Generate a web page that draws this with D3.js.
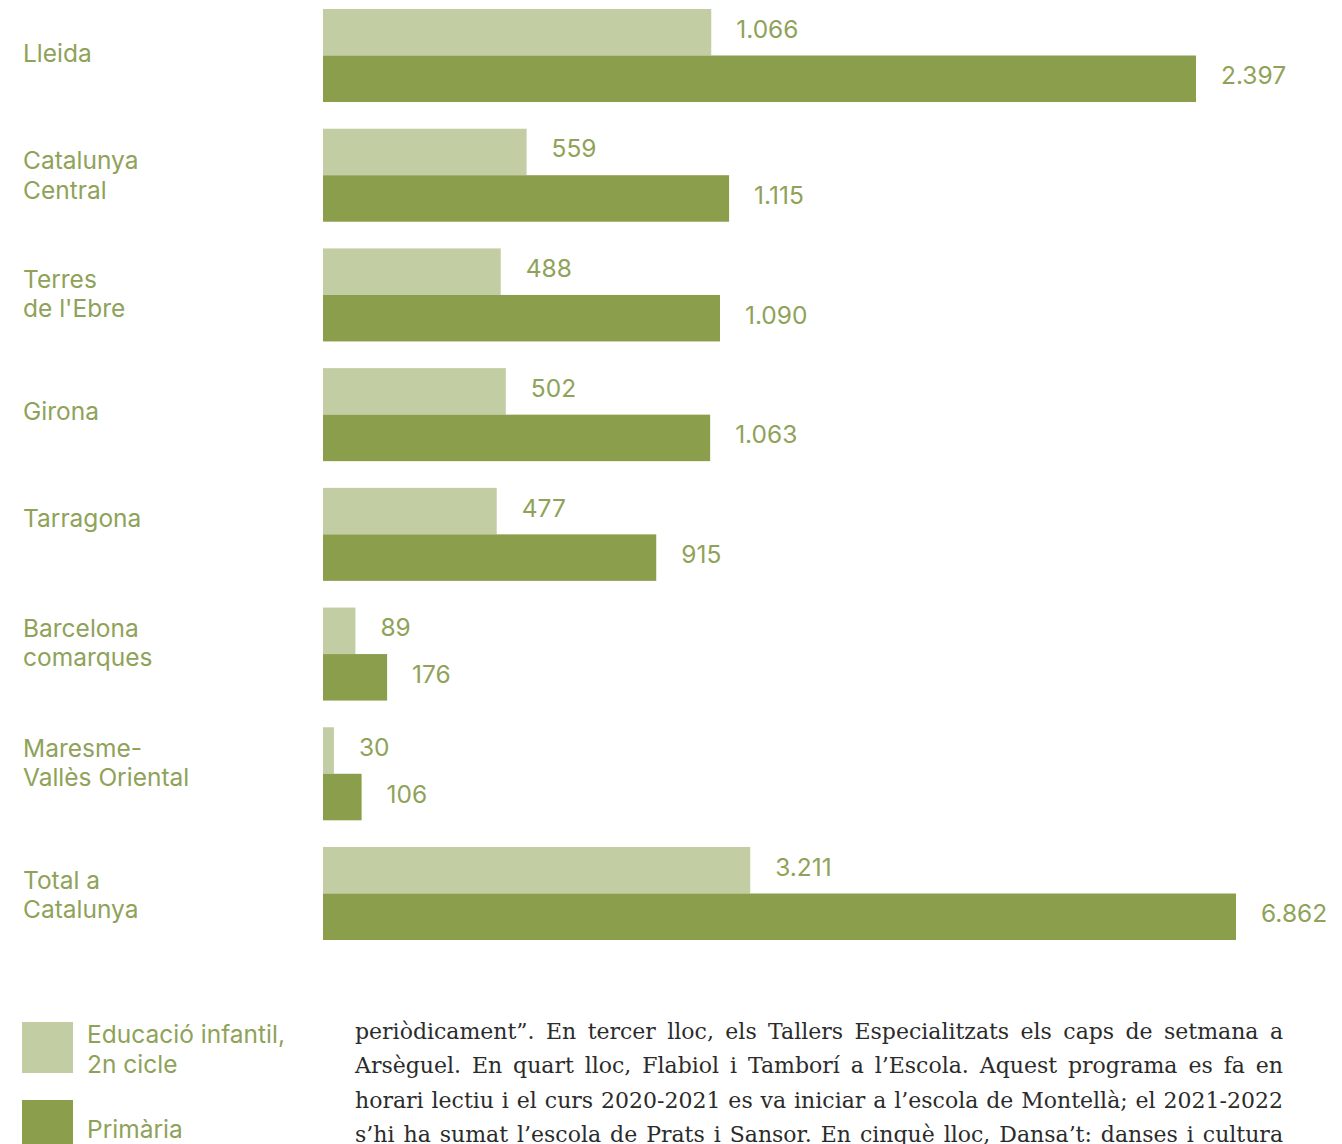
<!DOCTYPE html>
<html>
<head>
  <script src="https://d3js.org/d3.v7.min.js"></script>
  <style>
    body { margin: 0; background: #fff; }
    .cat, .val, .leg { font-family: Inter, "Open Sans", sans-serif; fill: #8fa259; }
    .para { font-family: "DejaVu Serif", serif; fill: #2b2b2b; }
  </style>
</head>
<body>
  <svg width="1342" height="1144"></svg>
  <script>
    const width = 1342, height = 1144;

    // data
    const categories = ["Lleida", "Catalunya Central", "Terres de l'Ebre", "Girona",
      "Tarragona", "Barcelona comarques", "Maresme-Vallès Oriental", "Total a Catalunya"];
    const categoryLines = [["Lleida"], ["Catalunya", "Central"], ["Terres", "de l'Ebre"], ["Girona"],
      ["Tarragona"], ["Barcelona", "comarques"], ["Maresme-", "Vallès Oriental"], ["Total a", "Catalunya"]];
    const infantil = [1066, 559, 488, 502, 477, 89, 30, 3211];
    const primaria = [2397, 1115, 1090, 1063, 915, 176, 106, 6862];
    const seriesNames = ["Educació infantil, 2n cicle", "Primària"];
    const paragraph = [
      "periòdicament”. En tercer lloc, els Tallers Especialitzats els caps de setmana a",
      "Arsèguel. En quart lloc, Flabiol i Tamborí a l’Escola. Aquest programa es fa en",
      "horari lectiu i el curs 2020-2021 es va iniciar a l’escola de Montellà; el 2021-2022",
      "s’hi ha sumat l’escola de Prats i Sansor. En cinquè lloc, Dansa’t: danses i cultura"
    ];

    const colors = ["#c3cda4", "#8b9e4c"];
    const fmt = v => d3.format(",")(v).replace(/,/g, ".");
    const fs = 24.5;

    const svg = d3.select("svg")
      .attr("width", width)
      .attr("height", height);

    const y = d3.scaleBand()
      .domain(categories)
      .range([9, 940])
      .paddingInner(0.223)
      .paddingOuter(0);

    const ySub = d3.scaleBand()
      .domain([0, 1])
      .range([0, y.bandwidth()]);

    // the regions share one scale, the total has its own
    const xRegion = d3.scaleLinear().domain([0, 2397]).range([323, 1196]);
    const xTotal = d3.scaleLinear().domain([0, 6862]).range([323, 1236]);
    const xFor = c => c === "Total a Catalunya" ? xTotal : xRegion;

    const rows = categories.map((c, i) => ({
      cat: c, lines: categoryLines[i], vals: [infantil[i], primaria[i]]
    }));

    // small vertical nudges for category labels, as laid out in the original
    const labelNudge = [-3, 0, -1.5, -3.7, -16, -11.7, -11.5, 1];

    const g = svg.selectAll(".row")
      .data(rows)
      .enter().append("g")
      .attr("class", "row")
      .attr("transform", d => `translate(0,${y(d.cat)})`);

    g.selectAll("rect")
      .data(d => d.vals.map((v, k) => ({ v, k, x: xFor(d.cat) })))
      .enter().append("rect")
      .attr("x", d => d.x(0))
      .attr("y", d => ySub(d.k))
      .attr("width", d => d.x(d.v) - d.x(0))
      .attr("height", ySub.bandwidth())
      .attr("fill", d => colors[d.k]);

    g.selectAll(".val")
      .data(d => d.vals.map((v, k) => ({ v, k, x: xFor(d.cat) })))
      .enter().append("text")
      .attr("class", "val")
      .attr("x", d => d.x(d.v) + 25)
      .attr("y", d => ySub(d.k) + ySub.bandwidth() / 2 + 5.5)
      .attr("font-size", fs)
      .text(d => fmt(d.v));

    const lineH = 29.5;
    g.append("text")
      .attr("class", "cat")
      .attr("x", 23)
      .attr("font-size", fs)
      .each(function (d, i) {
        const n = d.lines.length;
        const base = y.bandwidth() / 2 + 9 - (n - 1) * lineH / 2 + labelNudge[i];
        d3.select(this).selectAll("tspan")
          .data(d.lines)
          .enter().append("tspan")
          .attr("x", 23)
          .attr("y", (t, j) => base + j * lineH)
          .text(t => t);
      });

    // legend
    const legendY = d3.scaleOrdinal().domain(seriesNames).range([1022, 1100]);
    const legendLines = [["Educació infantil,", "2n cicle"], ["Primària"]];
    const leg = svg.selectAll(".legend")
      .data(seriesNames)
      .enter().append("g")
      .attr("class", "legend")
      .attr("transform", d => `translate(22,${legendY(d)})`);

    leg.append("rect")
      .attr("width", 51)
      .attr("height", 51)
      .attr("fill", (d, i) => colors[i]);

    leg.append("text")
      .attr("class", "leg")
      .attr("font-size", fs)
      .each(function (d, i) {
        d3.select(this).selectAll("tspan")
          .data(legendLines[i])
          .enter().append("tspan")
          .attr("x", 65)
          .attr("y", (t, j) => (i === 0 ? 21 : 37.5) + j * 29.5)
          .text(t => t);
      });

    // body text, justified between 355 and 1283
    const paraW = 1283 - 355;
    const para = svg.selectAll(".para")
      .data(paragraph)
      .enter().append("text")
      .attr("class", "para")
      .attr("x", 355)
      .attr("y", (d, i) => 1039 + i * 34.3)
      .attr("font-size", 22)
      .text(d => d);

    // shrink the type until the longest line fits, then spread the words
    const widest = d3.max(para.nodes(), n => n.getComputedTextLength());
    const pfs = Math.min(22, 22 * (paraW - 12) / widest);
    para.attr("font-size", pfs)
      .each(function (d) {
        const len = this.getComputedTextLength();
        const spaces = d.split(" ").length - 1;
        d3.select(this).attr("word-spacing", (paraW - len) / spaces);
      });
  </script>
</body>
</html>
